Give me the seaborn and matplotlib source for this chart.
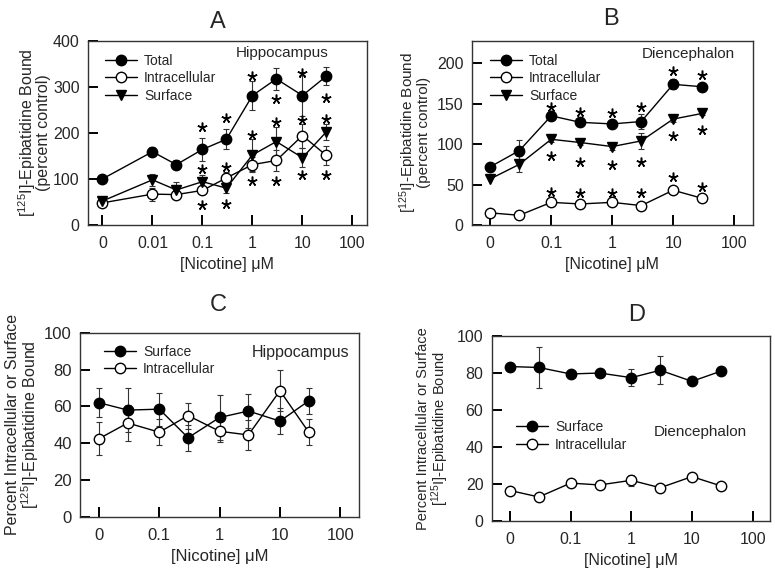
import numpy as np
import pandas as pd
import seaborn as sns
import matplotlib.pyplot as plt

# ------------------------------------------------------------
# Data
# ------------------------------------------------------------
CONC_A = [0, 0.01, 0.03, 0.1, 0.3, 1, 3, 10, 30]
A_TOTAL = [100, 159, 131, 164, 186, 281, 317, 281, 323]
A_TOTAL_ERR = [0, 10, 10, 25, 22, 31, 24, 45, 19]
A_INTRA = [48, 67, 66, 75, 102, 131, 140, 194, 151]
A_INTRA_ERR = [0, 14, 10, 8, 14, 16, 22, 26, 21]
A_SURF = [52, 98, 76, 94, 80, 152, 181, 146, 202]
A_SURF_ERR = [0, 13, 17, 15, 10, 35, 32, 20, 18]
A_STAR_X = [0.1, 0.1, 0.1, 0.3, 0.3, 0.3, 1, 1, 1, 3, 3, 3, 10, 10, 10, 30, 30, 30]
A_STAR_Y = [212, 122, 43, 233, 126, 45, 324, 195, 95, 273, 224, 95, 330, 228, 108, 276, 231, 109]

CONC = [0, 0.03, 0.1, 0.3, 1, 3, 10, 30]
B_TOTAL = [72, 92, 135, 127, 125, 128, 174, 171]
B_TOTAL_ERR = [0, 13, 4, 3, 4, 9, 6, 3]
B_SURF = [57, 75, 106, 102, 97, 104, 131, 138]
B_SURF_ERR = [0, 10, 3, 3, 4, 10, 3, 2]
B_INTRA = [15, 12, 28, 26, 28, 24, 43, 33]
B_INTRA_ERR = [0, 0, 0, 0, 0, 0, 0, 0]
B_STAR_X = [0.1, 0.1, 0.1, 0.3, 0.3, 0.3, 1, 1, 1, 3, 3, 3, 10, 10, 10, 30, 30, 30]
B_STAR_Y = [146, 85, 41, 140, 78, 40, 138, 74, 40, 146, 78, 39, 190, 110, 59, 186, 118, 47]

C_SURF = [62, 58, 58.5, 43, 54, 57.5, 52, 63]
C_SURF_ERR = [8, 12, 9, 7, 12, 9, 7, 7]
C_INTRA = [42.5, 51, 46, 55, 46.5, 44.5, 68.5, 46]
C_INTRA_ERR = [9, 10, 7, 7, 6, 8, 11, 7]

D_SURF = [83.5, 83, 79.5, 80, 77.5, 81.5, 75.5, 81]
D_SURF_ERR = [0, 11, 1, 1, 4.5, 7.5, 1, 1]
D_INTRA = [16.5, 13, 20.5, 19.5, 22, 18, 24, 19]
D_INTRA_ERR = [0, 0, 0, 0, 3, 0, 0, 0]

TICKS_A = ["0", "0.01", "0.1", "1", "10", "100"]
TICKS = ["0", "0.1", "1", "10", "100"]

# ------------------------------------------------------------
# Style
# ------------------------------------------------------------
sns.set_theme(style="ticks")
plt.rcParams["font.family"] = ["Liberation Sans", "DejaVu Sans"]
plt.rcParams["mathtext.fontset"] = "custom"
plt.rcParams["mathtext.rm"] = "Liberation Sans"
plt.rcParams["mathtext.it"] = "Liberation Sans:italic"

LEG = dict(loc="upper left", frameon=False, fontsize=10, borderpad=0, borderaxespad=0,
           handlelength=2.3, handletextpad=0.5, labelspacing=0.25)


def xpos(conc, zero):
    return [zero if c == 0 else c for c in conc]


def draw_series(ax, conc, zero, vals, errs, marker, face, label):
    x = xpos(conc, zero)
    df = pd.DataFrame({"x": x, "y": vals})
    sns.lineplot(data=df, x="x", y="y", ax=ax, color="black", lw=1,
                 marker=marker, ms=7.5, mfc=face, mec="black", mew=1,
                 label=label, zorder=3)
    xe = [a for a, e in zip(x, errs) if e > 0]
    ye = [v for v, e in zip(vals, errs) if e > 0]
    ee = [e for e in errs if e > 0]
    if ee:
        ax.errorbar(xe, ye, yerr=ee, fmt="none", ecolor="#333333",
                    elinewidth=0.8, capsize=2.5, capthick=0.8, zorder=2)


def style_axes(ax, zero, ticklabels, xlim, ylim, yticks, fs):
    ax.set_xscale("log")
    ticks = [zero * 10 ** i for i in range(len(ticklabels))]
    ax.set_xticks(ticks)
    ax.set_xticklabels(ticklabels)
    ax.minorticks_off()
    ax.set_xlim(*xlim)
    ax.set_ylim(*ylim)
    ax.set_yticks(yticks)
    for s in ax.spines.values():
        s.set_visible(True)
        s.set_color("#333333")
        s.set_linewidth(1)
    ax.tick_params(direction="in", length=7, width=1.4, color="black",
                   bottom=True, left=True, top=False, right=False)
    ax.tick_params(axis="y", labelsize=fs, pad=6)
    ax.tick_params(axis="x", labelsize=fs, pad=8)
    ax.set_xlabel("[Nicotine] μM", fontsize=fs, labelpad=4)


def stars(ax, xs, ys):
    ax.plot(xs, ys, ls="none", marker=(5, 2, 0), ms=7, mew=1.1,
            color="black", zorder=4)


fig = plt.figure(figsize=(7.75, 5.68), dpi=100)
fig.patch.set_facecolor("white")

# ------------------------------------------------------------
# A - Hippocampus
# ------------------------------------------------------------
ax = fig.add_axes([0.1135, 0.6039, 0.36, 0.3245])
z = 0.001
draw_series(ax, CONC_A, z, A_TOTAL, A_TOTAL_ERR, "o", "black", "Total")
draw_series(ax, CONC_A, z, A_INTRA, A_INTRA_ERR, "o", "white", "Intracellular")
draw_series(ax, CONC_A, z, A_SURF, A_SURF_ERR, "v", "black", "Surface")
stars(ax, A_STAR_X, A_STAR_Y)
style_axes(ax, z, TICKS_A, (10 ** -3.29, 10 ** 2.29), (0, 400), [0, 100, 200, 300, 400], 11.5)
ax.set_ylabel("[$^{125}$I]-Epibatidine Bound\n(percent control)", fontsize=11.5,
              labelpad=1, linespacing=0.85)
ax.legend(bbox_to_anchor=(0.061, 0.93), **LEG)
ax.text(0.695, 0.933, "Hippocampus", transform=ax.transAxes, ha="center", va="center", fontsize=11)
fig.text(0.281, 0.961, "A", ha="center", va="center", fontsize=17)

# ------------------------------------------------------------
# B - Diencephalon
# ------------------------------------------------------------
ax = fig.add_axes([0.609, 0.6039, 0.3626, 0.3245])
z = 0.01
draw_series(ax, CONC, z, B_TOTAL, B_TOTAL_ERR, "o", "black", "Total")
draw_series(ax, CONC, z, B_INTRA, B_INTRA_ERR, "o", "white", "Intracellular")
draw_series(ax, CONC, z, B_SURF, B_SURF_ERR, "v", "black", "Surface")
stars(ax, B_STAR_X, B_STAR_Y)
style_axes(ax, z, TICKS, (10 ** -2.3, 10 ** 2.31), (0, 228), [0, 50, 100, 150, 200], 11.5)
ax.set_ylabel("[$^{125}$I]-Epibatidine Bound\n(percent control)", fontsize=11,
              labelpad=4, linespacing=0.9)
ax.legend(bbox_to_anchor=(0.064, 0.93), **LEG)
ax.text(0.77, 0.928, "Diencephalon", transform=ax.transAxes, ha="center", va="center", fontsize=11)
fig.text(0.788, 0.966, "B", ha="center", va="center", fontsize=17)

# ------------------------------------------------------------
# C - Hippocampus fractions
# ------------------------------------------------------------
ax = fig.add_axes([0.1032, 0.0898, 0.36, 0.3245])
draw_series(ax, CONC, z, C_SURF, C_SURF_ERR, "o", "black", "Surface")
draw_series(ax, CONC, z, C_INTRA, C_INTRA_ERR, "o", "white", "Intracellular")
style_axes(ax, z, TICKS, (10 ** -2.315, 10 ** 2.31), (0, 100), [0, 20, 40, 60, 80, 100], 12)
ax.set_ylabel("Percent Intracellular or Surface\n[$^{125}$I]-Epibatidine Bound", fontsize=11.5,
              labelpad=2, linespacing=0.95)
ax.legend(bbox_to_anchor=(0.086, 0.935), **LEG)
ax.text(0.79, 0.89, "Hippocampus", transform=ax.transAxes, ha="center", va="center", fontsize=11.5)
fig.text(0.281, 0.463, "C", ha="center", va="center", fontsize=17)

# ------------------------------------------------------------
# D - Diencephalon fractions
# ------------------------------------------------------------
ax = fig.add_axes([0.6345, 0.0827, 0.359, 0.3257])
draw_series(ax, CONC, z, D_SURF, D_SURF_ERR, "o", "black", "Surface")
draw_series(ax, CONC, z, D_INTRA, D_INTRA_ERR, "o", "white", "Intracellular")
style_axes(ax, z, TICKS, (10 ** -2.3, 10 ** 2.286), (0, 100), [0, 20, 40, 60, 80, 100], 11.5)
ax.set_ylabel("Percent Intracellular or Surface\n[$^{125}$I]-Epibatidine Bound", fontsize=10.5,
              labelpad=4, linespacing=0.95)
ax.legend(bbox_to_anchor=(0.087, 0.545), **LEG)
ax.text(0.748, 0.481, "Diencephalon", transform=ax.transAxes, ha="center", va="center", fontsize=11)
fig.text(0.822, 0.445, "D", ha="center", va="center", fontsize=17)

fig.savefig("out.png", dpi=100, facecolor="white")
